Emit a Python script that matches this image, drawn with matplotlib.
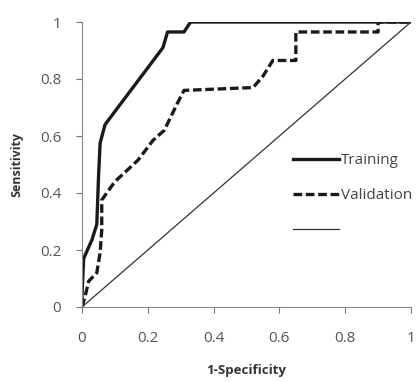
import matplotlib.pyplot as plt

# ROC curves
train_fpr = [0, 0, 0.005, 0.03, 0.045, 0.05, 0.055, 0.07, 0.246, 0.26, 0.31, 0.33, 1.0]
train_tpr = [0, 0.04, 0.17, 0.235, 0.29, 0.45, 0.575, 0.64, 0.91, 0.965, 0.965, 1.0, 1.0]

valid_fpr = [0, 0.01, 0.02, 0.045, 0.055, 0.06, 0.06, 0.075, 0.10, 0.17, 0.216, 0.25, 0.29, 0.31,
             0.52, 0.55, 0.58, 0.65, 0.65, 0.90, 0.90, 1.0]
valid_tpr = [0, 0.04, 0.09, 0.12, 0.19, 0.27, 0.375, 0.40, 0.44, 0.515, 0.585, 0.62, 0.715, 0.76,
             0.77, 0.81, 0.865, 0.865, 0.965, 0.965, 1.0, 1.0]

ref_x = [0, 1]
ref_y = [0, 1]

ticks = [0, 0.2, 0.4, 0.6, 0.8, 1]
tick_labels = ["0", "0.2", "0.4", "0.6", "0.8", "1"]

plt.rcParams['font.family'] = ['Open Sans', 'DejaVu Sans']

fig = plt.figure(figsize=(4.17, 3.82), dpi=100)
ax = fig.add_axes([82/417, 1 - 307/382, 329/417, 285/382])

ax.plot(train_fpr, train_tpr, color="#1a1a1a", lw=2.4, label="Training")
ax.plot(valid_fpr, valid_tpr, color="#1a1a1a", lw=2.4, ls=(0, (2.6, 1.1)), label="Validation")
ax.plot(ref_x, ref_y, color="#333333", lw=0.9, label=" ")

ax.set_xlim(0, 1)
ax.set_ylim(0, 1)
ax.set_xticks(ticks)
ax.set_xticklabels(tick_labels)
ax.set_yticks(ticks)
ax.set_yticklabels(tick_labels)
ax.tick_params(colors="#777777", labelcolor="#555555", labelsize=11, length=4)
ax.tick_params(axis="x", pad=13)
ax.tick_params(axis="y", pad=11)
for s in ["top", "right"]:
    ax.spines[s].set_visible(False)
for s in ["left", "bottom"]:
    ax.spines[s].set_color("#888888")

ax.set_xlabel("1-Specificity", fontsize=9.5, fontweight="bold", color="#333333", labelpad=13)
ax.set_ylabel("Sensitivity", fontsize=9, fontweight="bold", color="#333333", labelpad=12)

leg = ax.legend(loc="center left", bbox_to_anchor=(0.6, 0.39), frameon=False, fontsize=11,
                handlelength=3.0, handletextpad=0.1, labelspacing=1.3)
for t in leg.get_texts():
    t.set_color("#444444")

fig.savefig("out.png", dpi=100)
